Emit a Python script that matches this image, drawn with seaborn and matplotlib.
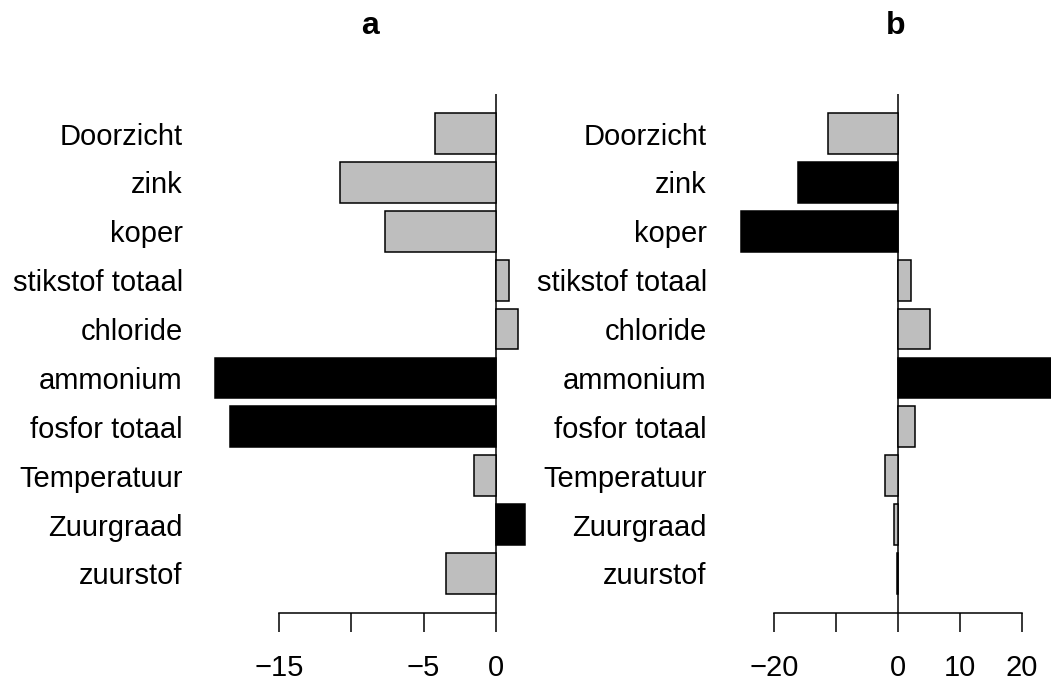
import matplotlib
matplotlib.use("Agg")
import matplotlib.pyplot as plt
import seaborn as sns
import pandas as pd

# Variables (top to bottom)
variables = ["Doorzicht", "zink", "koper", "stikstof totaal", "chloride",
             "ammonium", "fosfor totaal", "Temperatuur", "Zuurgraad", "zuurstof"]

# Panel a: effect sizes and significance
values_a = [-4.25, -10.8, -7.7, 0.9, 1.5, -19.4, -18.35, -1.55, 2.0, -3.45]
signif_a = [False, False, False, False, False, True, True, False, True, False]

# Panel b: effect sizes and significance
values_b = [-11.3, -16.1, -25.3, 2.1, 5.1, 24.6, 2.8, -2.05, -0.7, -0.15]
signif_b = [False, True, True, False, False, True, False, False, False, False]

ticks_a = [-15, -10, -5, 0]
ticklabels_a = ["\u221215", "", "\u22125", "0"]
ticks_b = [-20, -10, 0, 10, 20]
ticklabels_b = ["\u221220", "", "0", "10", "20"]

sns.set_theme(style="white")
plt.rcParams["font.family"] = ["Liberation Sans", "DejaVu Sans"]

W, H = 1051, 683
fig = plt.figure(figsize=(W / 100, H / 100), dpi=100)

palette = {"ja": "black", "nee": "#bebebe"}
FS = 21


def panel(left_px, right_px, xlim, values, signif, ticks, ticklabels, title, title_x):
    top_px, bottom_px = 94, 613
    ax = fig.add_axes([left_px / W, 1 - bottom_px / H,
                       (right_px - left_px) / W, (bottom_px - top_px) / H])
    df = pd.DataFrame({"var": variables, "val": values,
                       "sig": ["ja" if s else "nee" for s in signif]})
    sns.barplot(data=df, x="val", y="var", hue="sig", palette=palette,
                hue_order=["ja", "nee"], dodge=False, orient="h",
                width=0.833, saturation=1, edgecolor="black", linewidth=1.1,
                legend=False, ax=ax)
    ax.axvline(0, color="black", lw=1.1, zorder=0)
    ax.set_xlim(*xlim)
    ax.set_ylim(9.81, -0.81)
    ax.set_xlabel("")
    ax.set_ylabel("")
    for s in ["top", "right", "left"]:
        ax.spines[s].set_visible(False)
    ax.spines["bottom"].set_bounds(ticks[0], ticks[-1])
    ax.spines["bottom"].set_color("black")
    ax.spines["bottom"].set_linewidth(1.1)
    ax.set_xticks(ticks)
    ax.set_xticklabels(ticklabels)
    ax.tick_params(axis="x", direction="out", length=13.7, width=1.1,
                   color="black", pad=16, labelsize=FS, bottom=True)
    ax.tick_params(axis="y", length=0, pad=16, labelsize=FS)
    for t in ax.get_yticklabels() + ax.get_xticklabels():
        t.set_color("black")
    ax.set_facecolor("none")
    fig.text(title_x / W, 1 - 34 / H, title, ha="center", va="baseline",
             fontsize=23, fontweight="bold", color="black")
    return ax


# Scales: panel a 14.47 px per unit with zero at 496 px,
# panel b 6.2 px per unit with zero at 898 px
panel(205, 535, ((205 - 496) / 14.47, (535 - 496) / 14.47),
      values_a, signif_a, ticks_a, ticklabels_a, "a", 370)
panel(729, 1051, ((729 - 898) / 6.2, (1051 - 898) / 6.2),
      values_b, signif_b, ticks_b, ticklabels_b, "b", 896)

fig.savefig("out.png", dpi=100, facecolor="white")
